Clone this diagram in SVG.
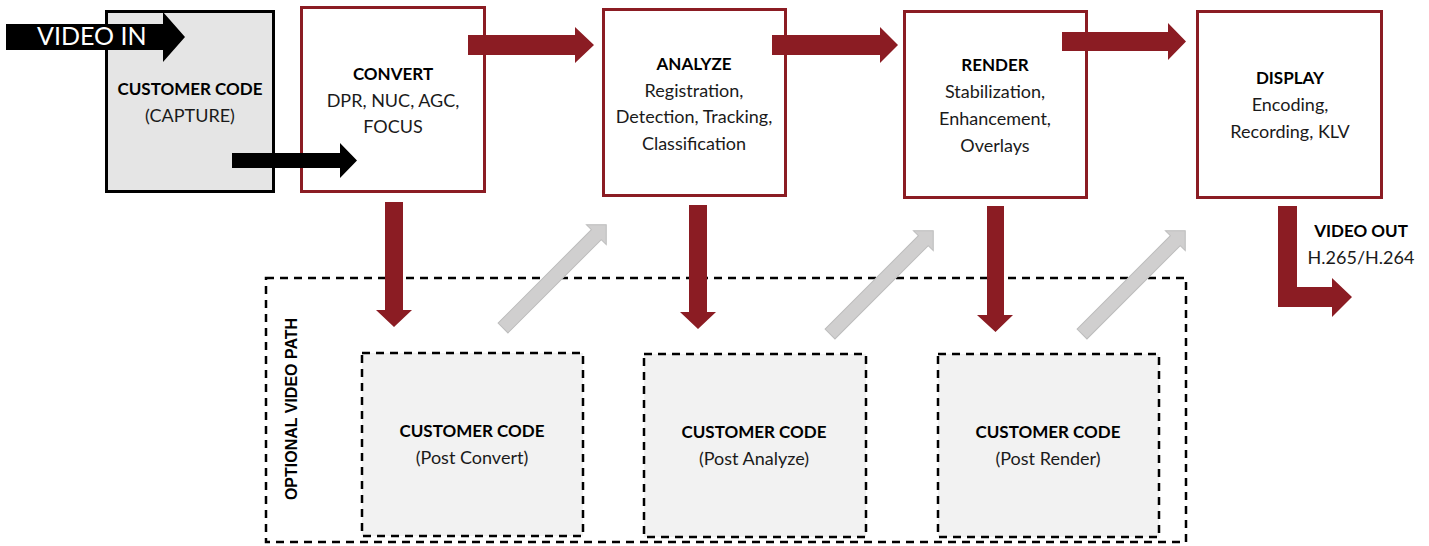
<svg xmlns="http://www.w3.org/2000/svg" width="1429" height="546" viewBox="0 0 1429 546">
  <defs>
    <style>
      .stage { fill: #ffffff; stroke: #8b1c23; stroke-width: 3; }
      .capture { fill: #e5e5e5; stroke: #000000; stroke-width: 3; }
      .custom { fill: #f2f2f2; stroke: #000000; stroke-width: 2.5; stroke-dasharray: 8 6; }
      .optional { fill: none; stroke: #000000; stroke-width: 2.5; stroke-dasharray: 8 6; }
      .red { fill: #8b1c23; }
      .black { fill: #000000; }
      .gray { fill: #d0cfcf; stroke: #bdbdbd; stroke-width: 1; }
      text { font-family: Lato, "Open Sans", "Liberation Sans", sans-serif; fill: #1a1a1a; text-anchor: middle; }
      .title { font-size: 17px; font-weight: bold; fill: #000000; }
      .body { font-size: 18px; }
      .side { font-family: "Liberation Sans", Arial, sans-serif; font-size: 16px; font-weight: bold; fill: #000000; }
      .banner { font-size: 25px; fill: #ffffff; text-anchor: start; }
    </style>
    <!-- diagonal return arrow, drawn pointing along +x from its tail -->
    <path id="ret" class="gray" d="M0,-7 L132,-7 L132,-14 L146,0 L132,14 L132,7 L0,7 Z"/>
  </defs>

  <!-- optional path frame -->
  <g id="optional-path">
    <rect class="optional" x="266" y="278" width="920" height="264"/>
    <text class="side" x="0" y="0" transform="translate(297,409) rotate(-90)">OPTIONAL VIDEO PATH</text>
  </g>

  <!-- pipeline stages -->
  <g id="capture">
    <rect class="capture" x="106.5" y="11.5" width="167" height="180"/>
    <text class="title" x="190" y="95">CUSTOMER CODE</text>
    <text class="body" x="190" y="122">(CAPTURE)</text>
  </g>
  <g id="convert">
    <rect class="stage" x="301.5" y="7.5" width="183" height="184"/>
    <text class="title" x="393" y="80">CONVERT</text>
    <text class="body" x="393" y="107">DPR, NUC, AGC,</text>
    <text class="body" x="393" y="133">FOCUS</text>
  </g>
  <g id="analyze">
    <rect class="stage" x="603.5" y="9.5" width="182" height="186"/>
    <text class="title" x="694" y="70">ANALYZE</text>
    <text class="body" x="694" y="97">Registration,</text>
    <text class="body" x="694" y="123">Detection, Tracking,</text>
    <text class="body" x="694" y="150">Classification</text>
  </g>
  <g id="render">
    <rect class="stage" x="904.5" y="11.5" width="182" height="186"/>
    <text class="title" x="995" y="71">RENDER</text>
    <text class="body" x="995" y="98">Stabilization,</text>
    <text class="body" x="995" y="125">Enhancement,</text>
    <text class="body" x="995" y="152">Overlays</text>
  </g>
  <g id="display">
    <rect class="stage" x="1197.5" y="11.5" width="184" height="186"/>
    <text class="title" x="1290" y="84">DISPLAY</text>
    <text class="body" x="1290" y="111">Encoding,</text>
    <text class="body" x="1290" y="138">Recording, KLV</text>
  </g>
  <g id="video-out">
    <text class="title" x="1361" y="237">VIDEO OUT</text>
    <text class="body" x="1361" y="264">H.265/H.264</text>
  </g>

  <!-- customer code hooks on the optional path -->
  <g id="post-convert">
    <rect class="custom" x="362" y="353" width="221" height="183"/>
    <text class="title" x="472" y="437">CUSTOMER CODE</text>
    <text class="body" x="472" y="464">(Post Convert)</text>
  </g>
  <g id="post-analyze">
    <rect class="custom" x="644" y="354" width="222" height="183"/>
    <text class="title" x="754" y="438">CUSTOMER CODE</text>
    <text class="body" x="754" y="465">(Post Analyze)</text>
  </g>
  <g id="post-render">
    <rect class="custom" x="938" y="354" width="221" height="183"/>
    <text class="title" x="1048" y="438">CUSTOMER CODE</text>
    <text class="body" x="1048" y="465">(Post Render)</text>
  </g>

  <!-- connectors -->
  <g id="connectors">
    <!-- video input -->
    <path class="black" d="M6,24 L163,24 L163,12 L185,37 L163,62 L163,50 L6,50 Z"/>
    <text class="banner" x="37" y="45">VIDEO IN</text>
    <path class="black" d="M232,153 L340,153 L340,143 L357,160.5 L340,178 L340,168 L232,168 Z"/>

    <!-- main chain -->
    <path class="red" d="M468,35 L575,35 L575,27 L594,45 L575,63 L575,55 L468,55 Z"/>
    <path class="red" d="M772,35 L880,35 L880,27 L898,45 L880,63 L880,55 L772,55 Z"/>
    <path class="red" d="M1062,32 L1168,32 L1168,23 L1186,41.5 L1168,60 L1168,51 L1062,51 Z"/>

    <!-- branches down to the optional hooks -->
    <path class="red" d="M385,202 L403,202 L403,310 L412,310 L394,327 L376,310 L385,310 Z"/>
    <path class="red" d="M689,205 L707,205 L707,312 L716,312 L698,329 L680,312 L689,312 Z"/>
    <path class="red" d="M987,206 L1004,206 L1004,315 L1013,315 L995.5,332 L977,315 L987,315 Z"/>

    <!-- returns from the hooks -->
    <use href="#ret" transform="translate(503,328) rotate(-45)"/>
    <use href="#ret" transform="translate(830,334) rotate(-45)"/>
    <use href="#ret" transform="translate(1082,334) rotate(-45)"/>

    <!-- output -->
    <path class="red" d="M1278,206 L1297,206 L1297,287 L1332,287 L1332,278 L1352,297 L1332,317 L1332,307 L1278,307 Z"/>
  </g>
</svg>
